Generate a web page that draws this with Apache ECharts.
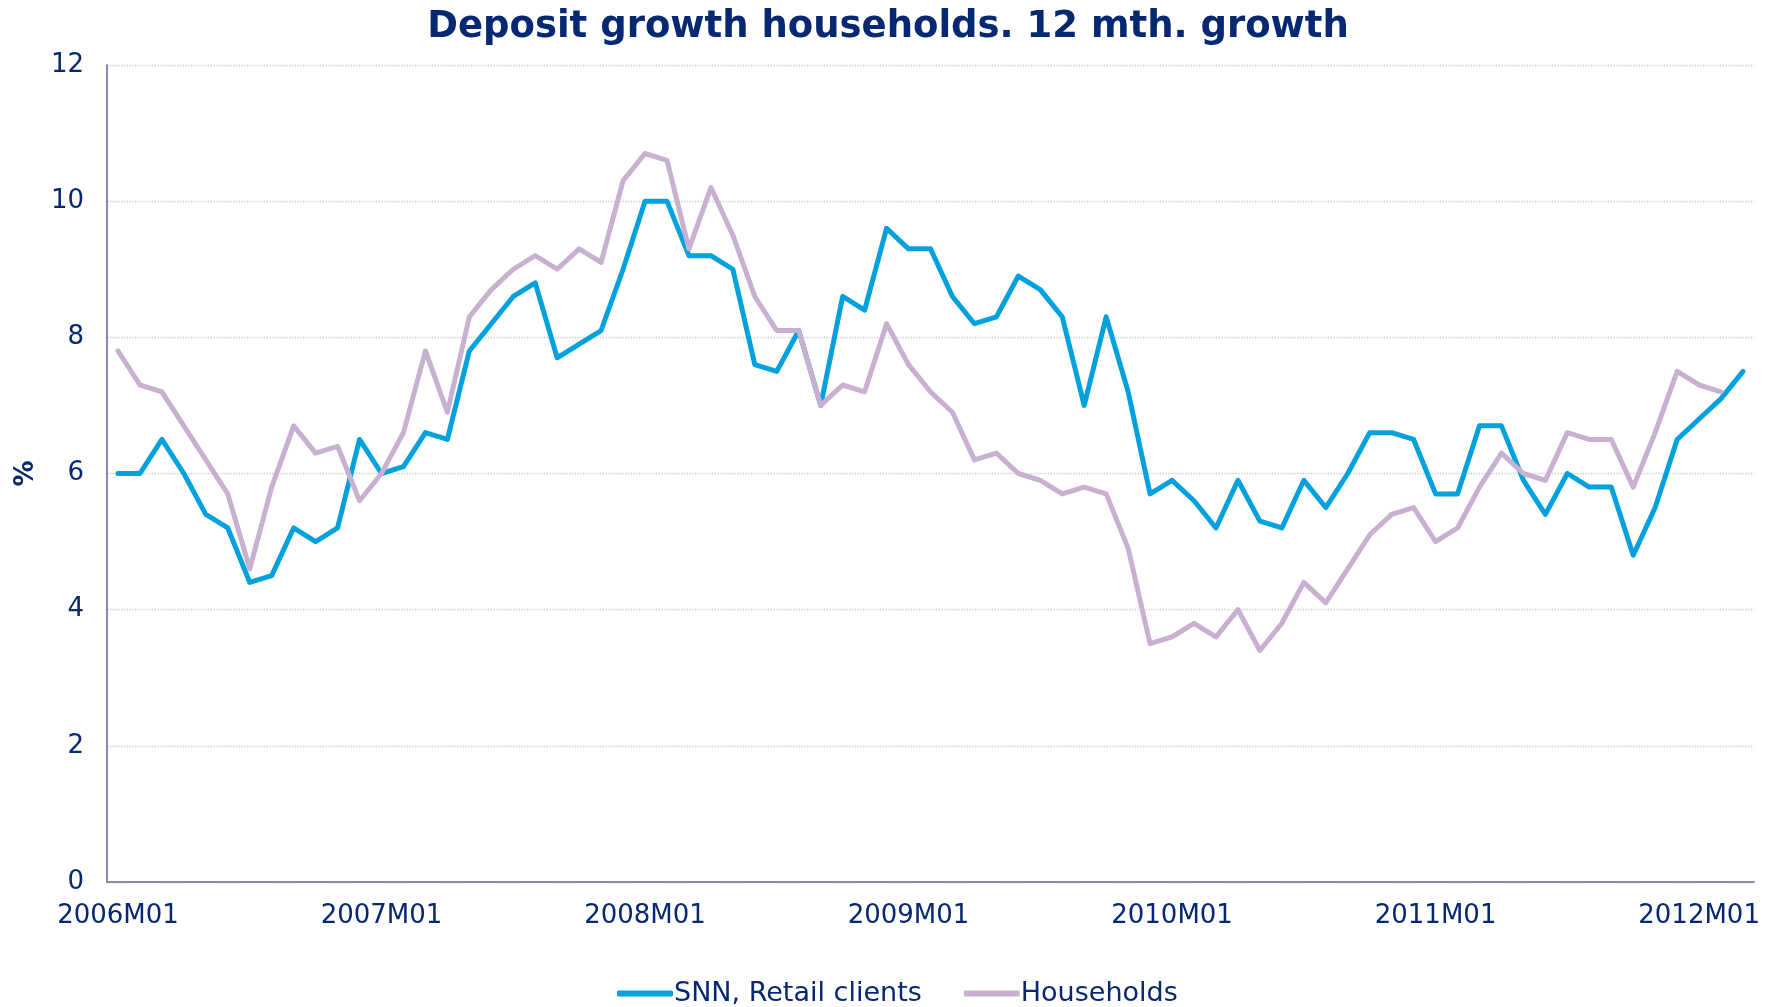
<!DOCTYPE html>
<html>
<head>
<meta charset="utf-8">
<script src="https://cdn.jsdelivr.net/npm/echarts@6/dist/echarts.min.js"></script>
<style>
  html, body { margin: 0; padding: 0; background: #ffffff; }
  #chart { width: 1776px; height: 1007px; }
</style>
</head>
<body>
<div id="chart"></div>
<script>
// Monthly categories, 2006M01 .. 2012M03
const years = [2006, 2007, 2008, 2009, 2010, 2011, 2012];
const categories = [];
years.forEach(function (y) {
  for (let m = 1; m <= 12; m++) {
    if (y === 2012 && m > 3) break;
    categories.push(y + 'M' + (m < 10 ? '0' + m : m));
  }
});

// 12-month growth, %
const snnRetail = [
  6.0, 6.0, 6.5, 6.0, 5.4, 5.2, 4.4, 4.5, 5.2, 5.0, 5.2, 6.5,
  6.0, 6.1, 6.6, 6.5, 7.8, 8.2, 8.6, 8.8, 7.7, 7.9, 8.1, 9.0,
  10.0, 10.0, 9.2, 9.2, 9.0, 7.6, 7.5, 8.1, 7.0, 8.6, 8.4, 9.6,
  9.3, 9.3, 8.6, 8.2, 8.3, 8.9, 8.7, 8.3, 7.0, 8.3, 7.2, 5.7,
  5.9, 5.6, 5.2, 5.9, 5.3, 5.2, 5.9, 5.5, 6.0, 6.6, 6.6, 6.5,
  5.7, 5.7, 6.7, 6.7, 5.9, 5.4, 6.0, 5.8, 5.8, 4.8, 5.5, 6.5,
  6.8, 7.1, 7.5
];
const households = [
  7.8, 7.3, 7.2, 6.7, 6.2, 5.7, 4.6, 5.8, 6.7, 6.3, 6.4, 5.6,
  6.0, 6.6, 7.8, 6.9, 8.3, 8.7, 9.0, 9.2, 9.0, 9.3, 9.1, 10.3,
  10.7, 10.6, 9.3, 10.2, 9.5, 8.6, 8.1, 8.1, 7.0, 7.3, 7.2, 8.2,
  7.6, 7.2, 6.9, 6.2, 6.3, 6.0, 5.9, 5.7, 5.8, 5.7, 4.9, 3.5,
  3.6, 3.8, 3.6, 4.0, 3.4, 3.8, 4.4, 4.1, 4.6, 5.1, 5.4, 5.5,
  5.0, 5.2, 5.8, 6.3, 6.0, 5.9, 6.6, 6.5, 6.5, 5.8, 6.6, 7.5,
  7.3, 7.2
];
const yTicks = [0, 2, 4, 6, 8, 10, 12];

const navy = '#062872';
const font = 'DejaVu Sans, Verdana, sans-serif';

const chart = echarts.init(document.getElementById('chart'), null, { renderer: 'canvas' });
chart.setOption({
  animation: false,
  backgroundColor: '#ffffff',
  title: {
    text: 'Deposit growth households. 12 mth. growth',
    left: 'center',
    top: 4,
    textStyle: { color: navy, fontFamily: font, fontWeight: 'bold', fontSize: 37 }
  },
  legend: {
    left: 612,
    top: 975,
    itemWidth: 56,
    itemHeight: 6,
    itemGap: 42,
    icon: 'roundRect',
    textStyle: { color: navy, fontFamily: font, fontSize: 27, padding: [0, 0, 0, -4] },
    data: ['SNN, Retail clients', 'Households']
  },
  grid: { left: 107, right: 22, top: 65, bottom: 125, containLabel: false },
  xAxis: {
    type: 'category',
    data: categories,
    boundaryGap: true,
    axisLine: { lineStyle: { color: '#8a8aa8', width: 2 } },
    axisTick: { show: false },
    axisLabel: {
      interval: 11,
      color: navy,
      fontFamily: font,
      fontSize: 26,
      margin: 21
    },
    splitLine: { show: false }
  },
  yAxis: {
    type: 'value',
    min: yTicks[0],
    max: yTicks[yTicks.length - 1],
    interval: 2,
    name: '%',
    nameLocation: 'middle',
    nameGap: 68,
    nameRotate: 90,
    nameTextStyle: { color: navy, fontFamily: font, fontWeight: 'bold', fontSize: 26 },
    axisLine: { show: true, lineStyle: { color: '#8a8aa8', width: 2 } },
    axisTick: { show: false },
    axisLabel: { color: navy, fontFamily: font, fontSize: 26, margin: 23 },
    splitLine: { lineStyle: { color: '#cccccc', type: 'dotted', width: 1.4 } }
  },
  series: [
    {
      name: 'SNN, Retail clients',
      type: 'line',
      data: snnRetail,
      symbol: 'none',
      lineStyle: { color: '#00a1dc', width: 5, join: 'round', cap: 'round' },
      itemStyle: { color: '#00a1dc' },
      z: 2
    },
    {
      name: 'Households',
      type: 'line',
      data: households,
      symbol: 'none',
      lineStyle: { color: '#c8b0d0', width: 5, join: 'round', cap: 'round' },
      itemStyle: { color: '#c8b0d0' },
      z: 3
    }
  ]
});
</script>
</body>
</html>
